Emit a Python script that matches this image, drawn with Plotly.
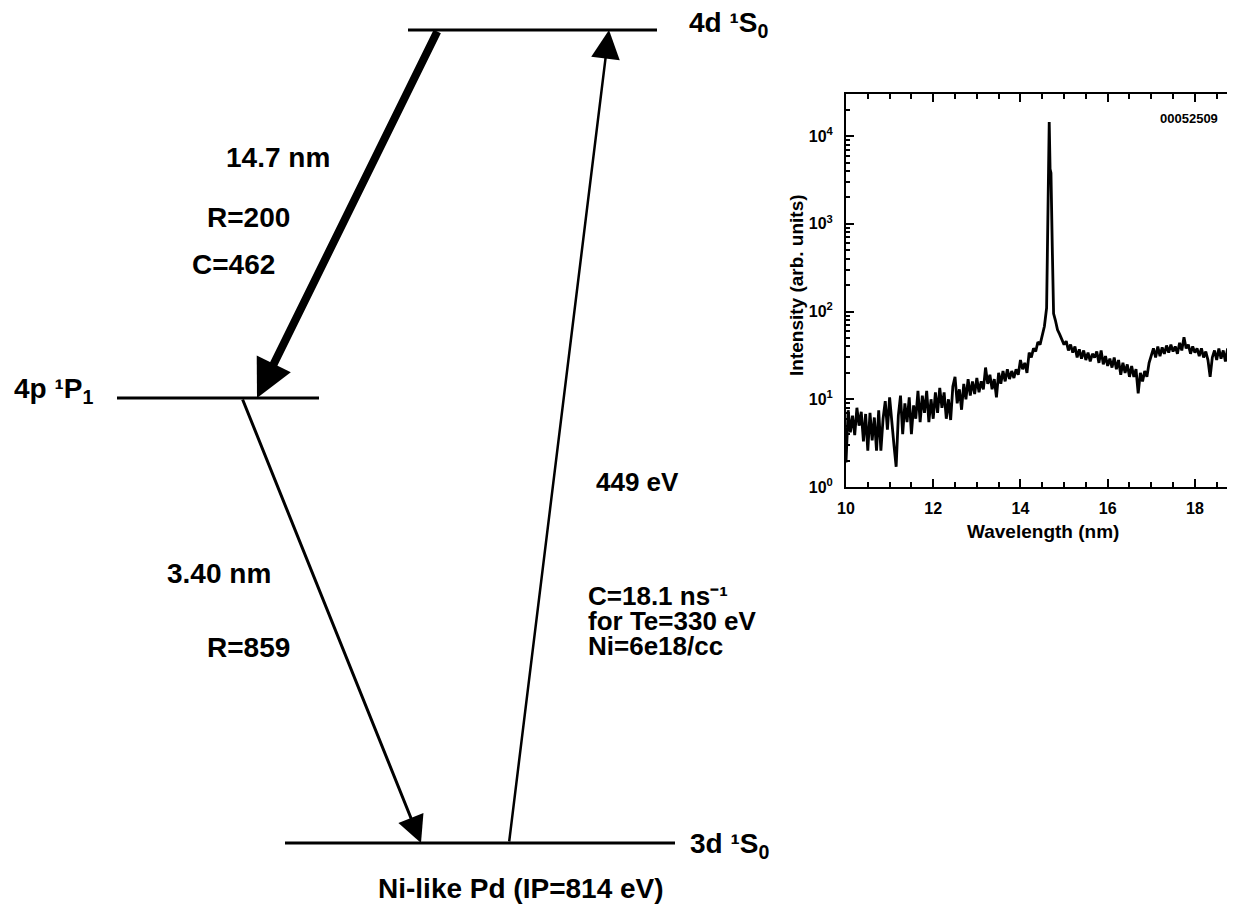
import plotly.graph_objects as go

# ---------------- spectrum (inset) data ----------------
wavelength_nm = [
    10.00, 10.05, 10.10, 10.15, 10.20, 10.25, 10.30, 10.35, 10.40, 10.45,
    10.50, 10.55, 10.60, 10.65, 10.70, 10.75, 10.80, 10.85, 10.90, 10.95,
    11.00, 11.05, 11.10, 11.15, 11.20, 11.25, 11.30, 11.35, 11.40, 11.45,
    11.50, 11.55, 11.60, 11.65, 11.70, 11.75, 11.80, 11.85, 11.90, 11.95,
    12.00, 12.05, 12.10, 12.15, 12.20, 12.25, 12.30, 12.35, 12.40, 12.45,
    12.50, 12.55, 12.60, 12.65, 12.70, 12.75, 12.80, 12.85, 12.90, 12.95,
    13.00, 13.05, 13.10, 13.15, 13.20, 13.25, 13.30, 13.35, 13.40, 13.45,
    13.50, 13.55, 13.60, 13.65, 13.70, 13.75, 13.80, 13.85, 13.90, 13.95,
    14.00, 14.05, 14.10, 14.15, 14.20, 14.25, 14.30, 14.35, 14.40, 14.45,
    14.50, 14.55, 14.60, 14.63, 14.66, 14.68, 14.70, 14.73, 14.76,
    14.80, 14.85, 14.90, 14.95, 15.00, 15.05, 15.10, 15.15, 15.20, 15.25,
    15.30, 15.35, 15.40, 15.45, 15.50, 15.55, 15.60, 15.65, 15.70, 15.75,
    15.80, 15.85, 15.90, 15.95, 16.00, 16.05, 16.10, 16.15, 16.20, 16.25,
    16.30, 16.35, 16.40, 16.45, 16.50, 16.55, 16.60, 16.65, 16.70, 16.75,
    16.80, 16.85, 16.90, 16.95, 17.00, 17.05, 17.10, 17.15, 17.20, 17.25,
    17.30, 17.35, 17.40, 17.45, 17.50, 17.55, 17.60, 17.65, 17.70, 17.75,
    17.80, 17.85, 17.90, 17.95, 18.00, 18.05, 18.10, 18.15, 18.20, 18.25,
    18.30, 18.35, 18.40, 18.45, 18.50, 18.55, 18.60, 18.65, 18.70, 18.75,
    18.80, 18.85, 18.90, 18.95,
]
intensity = [
    1.9, 7.5, 4.2, 6.5, 3.9, 8.0, 5.0, 7.2, 3.3, 6.8,
    2.6, 7.0, 3.4, 6.2, 2.6, 7.5, 2.6, 6.0, 9.5, 4.5,
    10.5, 5.0, 3.0, 1.7, 6.5, 11.0, 4.0, 9.0, 5.5, 10.5,
    4.0, 8.5, 6.0, 12.5, 5.5, 11.0, 7.0, 12.5, 5.5, 10.0,
    6.0, 12.0, 7.0, 13.5, 8.0, 12.0, 6.0, 10.0, 5.8, 14.0,
    18.0, 9.0, 13.0, 7.6, 15.0, 10.0, 17.0, 11.0, 16.0, 11.5,
    17.5, 12.0, 16.0, 13.0, 23.0, 15.0, 19.0, 13.0, 17.0, 10.5,
    20.0, 15.0, 21.0, 16.0, 22.0, 17.0, 21.0, 17.5, 22.0, 19.0,
    28.0, 22.0, 26.0, 20.0, 34.0, 30.0, 38.0, 35.0, 45.0, 42.0,
    55.0, 68.0, 110.0, 1300.0, 14500.0, 4200.0, 3800.0, 550.0, 95.0,
    80.0, 62.0, 55.0, 48.0, 42.0, 46.0, 36.0, 42.0, 34.0, 40.0,
    30.0, 37.0, 29.0, 36.0, 28.0, 34.0, 27.0, 33.0, 30.0, 35.0,
    26.0, 36.0, 25.0, 31.0, 24.0, 29.0, 23.0, 30.0, 22.0, 28.0,
    19.0, 26.0, 20.0, 25.0, 18.0, 24.0, 18.0, 22.0, 11.7, 20.0,
    16.0, 21.0, 18.0, 26.0, 31.0, 38.0, 30.0, 40.0, 31.0, 39.0,
    33.0, 41.0, 34.0, 42.0, 35.0, 40.0, 33.0, 44.0, 36.0, 51.0,
    38.0, 42.0, 33.0, 40.0, 34.0, 38.0, 31.0, 38.0, 30.0, 35.0,
    28.0, 18.0, 30.0, 36.0, 28.0, 38.0, 29.0, 36.0, 27.0, 38.0,
    29.0, 35.0, 30.0, 33.0,
]
x_tick_vals = [10, 12, 14, 16, 18]
x_tick_text = ["10", "12", "14", "16", "18"]
y_tick_vals = [1, 10, 100, 1000, 10000]
y_tick_text = ["10<sup>0</sup>", "10<sup>1</sup>", "10<sup>2</sup>",
               "10<sup>3</sup>", "10<sup>4</sup>"]
x_title = "Wavelength (nm)"
y_title = "Intensity (arb. units)"
shot_id = "00052509"

# ---------------- level diagram content ----------------
level_labels = ["4d \u00b9S<sub>0</sub>", "4p \u00b9P<sub>1</sub>", "3d \u00b9S<sub>0</sub>"]
transition_texts = {
    "laser": ["14.7 nm", "R=200", "C=462"],
    "decay": ["3.40 nm", "R=859"],
    "pump": ["449 eV", "C=18.1 ns\u207b\u00b9", "for Te=330 eV", "Ni=6e18/cc"],
}
ion_caption = "Ni-like Pd (IP=814 eV)"

# ---------------- geometry / style ----------------
# The page body adds an 8 px offset, so the figure is drawn 8 px smaller and
# the diagram axes use window-pixel units directly.
OFF = 8
VW, VH = 1235, 909
W, H = VW - OFF, VH - OFF
FONT = "Liberation Sans, Arial, Helvetica, sans-serif"


def px(x):
    return (x - OFF) / W


def py(y):
    return 1 - (y - OFF) / H


lvl_geom = [  # x0, x1, y for each level
    (408, 657, 30),
    (117, 319, 398),
    (285, 675, 843),
]
label_pos = [(687, 24), (12, 390), (688, 845)]

fig = go.Figure()

for (x0, x1, y) in lvl_geom:
    fig.add_trace(go.Scatter(x=[x0, x1], y=[y, y], mode="lines",
                             line=dict(color="black", width=3),
                             xaxis="x2", yaxis="y2", showlegend=False,
                             hoverinfo="skip"))

fig.add_trace(go.Scatter(x=wavelength_nm, y=intensity, mode="lines",
                         line=dict(color="black", width=2.8),
                         xaxis="x", yaxis="y", showlegend=False))

annotations = []


def txt(x, y, s, size=28, xanchor="left"):
    annotations.append(dict(x=x, y=y, xref="x2", yref="y2",
                            text="<b>" + s + "</b>", showarrow=False,
                            xanchor=xanchor, yanchor="middle",
                            font=dict(family=FONT, size=size, color="black")))


for lab, (x, y) in zip(level_labels, label_pos):
    txt(x, y, lab)

# arrows: (tail, tip, width, head size)
arrows = [
    ((438, 30), (257, 398), 8, 0.95),
    ((242, 398), (421, 843), 3, 1.8),
    ((509, 843), (609, 30), 2.5, 2.3),
]
for (tx, ty), (hx, hy), w, s in arrows:
    annotations.append(dict(x=hx, y=hy, ax=tx, ay=ty, xref="x2", yref="y2",
                            axref="x2", ayref="y2", text="", showarrow=True,
                            arrowhead=2, arrowsize=s, arrowwidth=w,
                            arrowcolor="black", standoff=0, startstandoff=0))

laser_pos = [(224, 157), (205, 217), (190, 264)]
for s, (x, y) in zip(transition_texts["laser"], laser_pos):
    txt(x, y, s)
decay_pos = [(165, 573), (205, 647)]
for s, (x, y) in zip(transition_texts["decay"], decay_pos):
    txt(x, y, s)
pump_pos = [(594, 482), (586, 596), (586, 621), (586, 646)]
for s, (x, y) in zip(transition_texts["pump"], pump_pos):
    txt(x, y, s, size=26)
txt(521, 888, ion_caption, xanchor="center")

# inset titles and id
annotations.append(dict(x=px(1043), y=py(531), xref="paper", yref="paper",
                        xanchor="center", yanchor="middle",
                        text="<b>" + x_title + "</b>", showarrow=False,
                        font=dict(family=FONT, size=19, color="black")))
annotations.append(dict(x=px(796), y=py(285), xref="paper", yref="paper",
                        xanchor="center", yanchor="middle",
                        text="<b>" + y_title + "</b>", showarrow=False, textangle=-90,
                        font=dict(family=FONT, size=19, color="black")))
annotations.append(dict(x=px(1189), y=py(119), xref="paper", yref="paper",
                        xanchor="center", yanchor="middle",
                        text="<b>" + shot_id + "</b>", showarrow=False,
                        font=dict(family=FONT, size=13, color="black")))

minor_y = [m * 10 ** k for k in range(0, 5) for m in range(2, 10) if m * 10 ** k < 30000]

axis_common = dict(showline=True, linewidth=2, linecolor="black", mirror="allticks",
                   ticks="inside", ticklen=8, tickwidth=2, tickcolor="black",
                   showgrid=False, zeroline=False,
                   tickfont=dict(family=FONT, size=16, color="black"))

fig.update_layout(
    width=W, height=H,
    margin=dict(l=0, r=0, t=0, b=0, autoexpand=False),
    paper_bgcolor="white", plot_bgcolor="rgba(0,0,0,0)",
    xaxis=dict(domain=[px(846), 1.0], range=[10, 18.92], anchor="y",
               tickmode="array", tickvals=x_tick_vals,
               ticktext=["<b>" + t + "</b>" for t in x_tick_text],
               ticklabelstandoff=6,
               minor=dict(ticks="inside", ticklen=5, tickwidth=2, tickcolor="black",
                          tickmode="linear", tick0=10, dtick=0.5),
               **axis_common),
    yaxis=dict(domain=[py(487), py(94)], type="log", range=[0, 4.48],
               anchor="x", tickmode="array", tickvals=y_tick_vals,
               ticktext=["<b>" + t + "</b>" for t in y_tick_text],
               ticklabelstandoff=8,
               minor=dict(ticks="inside", ticklen=4, tickwidth=2, tickcolor="black",
                          tickmode="array", tickvals=minor_y),
               **axis_common),
    xaxis2=dict(domain=[0, 1], range=[OFF, VW], anchor="y2", visible=False),
    yaxis2=dict(domain=[0, 1], range=[VH, OFF], anchor="x2", visible=False),
    annotations=annotations,
)

fig.write_html("out.html")
